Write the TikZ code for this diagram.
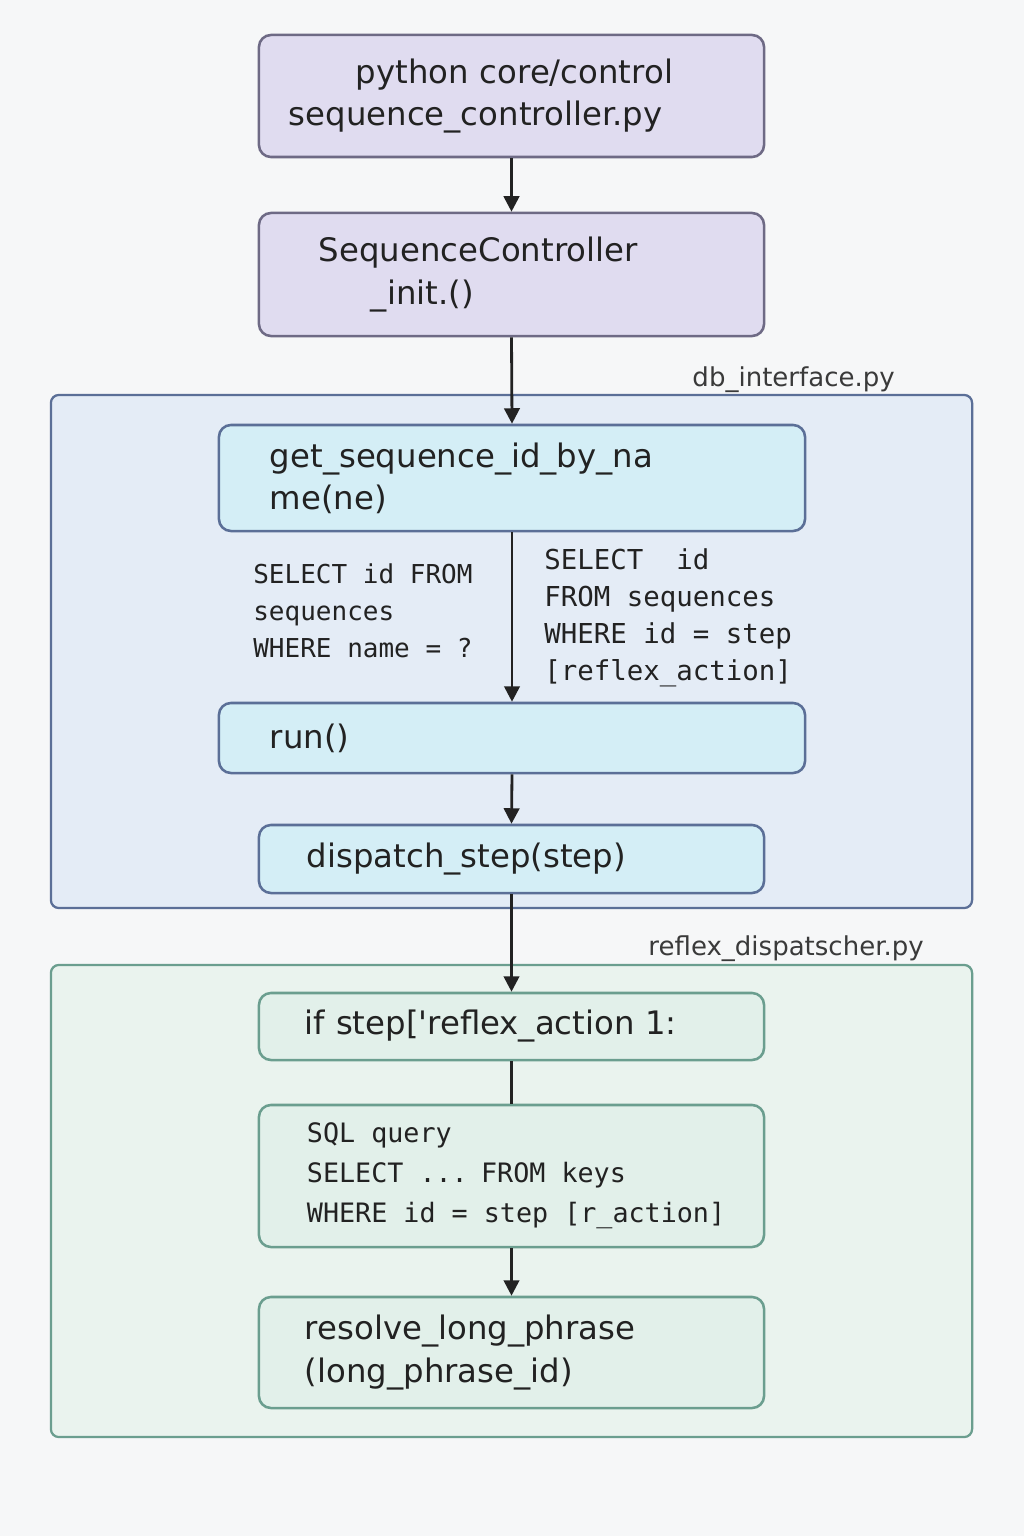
\documentclass[tikz,border=0pt]{standalone}
\usepackage{fontspec}
\setmainfont{DejaVu Sans}
\setmonofont{DejaVu Sans Mono}
\usetikzlibrary{arrows.meta}
\definecolor{paper}{HTML}{F6F7F8}
\definecolor{ink}{HTML}{222222}
\definecolor{lav}{HTML}{E0DCF0}
\definecolor{lavline}{HTML}{6E6A85}
\definecolor{dbfill}{HTML}{E4ECF6}
\definecolor{dbline}{HTML}{5B6F97}
\definecolor{cyanfill}{HTML}{D4EEF6}
\definecolor{rxfill}{HTML}{EAF3EE}
\definecolor{rxline}{HTML}{6B9E8F}
\definecolor{mintfill}{HTML}{E2F0EA}
\definecolor{labelgray}{HTML}{3A3A3A}

\begin{document}
\begin{tikzpicture}[x=0.025cm,y=-0.025cm,font=\fontsize{23}{30}\selectfont,text=ink,
 box/.style={draw,line width=1.8pt,rounded corners=0.3cm,align=left,inner ysep=2pt},
 purplebox/.style={box,fill=lav,draw=lavline},
 bluebox/.style={box,fill=cyanfill,draw=dbline},
 greenbox/.style={box,fill=mintfill,draw=rxline},
 group/.style={draw,line width=1.6pt,rounded corners=0.2cm,inner sep=0pt},
 fname/.style={anchor=east,inner sep=0pt,text=labelgray,font=\fontsize{18.5}{22}\selectfont},
 sqlnote/.style={anchor=west,align=left,inner sep=0pt},
 flow/.style={-{Triangle[length=11pt,width=11pt]},line width=2pt,draw=ink},
 link/.style={line width=2pt,draw=ink}]
\fill[paper] (0,0) rectangle (1024,1536);
\useasboundingbox (0,0) rectangle (1024,1536);

% module frames
\node[group,fill=dbfill,draw=dbline,minimum width=23.025cm,minimum height=12.825cm] (dbgrp) at (511.5,651.5) {};
\node[fname] (dblabel) at (895,380) {db\_interface.py};
\node[group,fill=rxfill,draw=rxline,minimum width=23.025cm,minimum height=11.8cm] (rxgrp) at (511.5,1201) {};
\node[fname] (rxlabel) at (924,949) {reflex\_dispatscher.py};

% controller
\node[purplebox,minimum height=3.05cm,inner xsep=0.75cm,text width=11.125cm] (ctrlfile) at (511.5,96)
 {\hspace*{1.675cm}python core/control\\sequence\_controller.py};
\node[purplebox,minimum height=3.075cm,inner xsep=1.5cm,text width=9.625cm] (ctrlinit) at (511.5,274.5)
 {SequenceController\\\hspace*{1.3cm}\_init.()};

% db interface
\node[bluebox,minimum height=2.65cm,inner xsep=1.275cm,text width=12.1cm] (getseq) at (512,478)
 {get\_sequence\_id\_by\_na\\me(ne)};
\node[sqlnote,font=\ttfamily\fontsize{18.5}{26.2}\selectfont] (byname) at (253,611)
 {SELECT id FROM\\sequences\\WHERE name = ?};
\node[sqlnote,font=\ttfamily\fontsize{19.5}{26.2}\selectfont] (byid) at (544,618)
 {SELECT~~id\\FROM sequences\\WHERE id = step\\{}[reflex\_action]};
\node[bluebox,minimum height=1.75cm,inner xsep=1.275cm,text width=12.1cm] (run) at (512,738) {run()};
\node[bluebox,minimum height=1.7cm,inner xsep=1.2cm,text width=10.225cm] (dispatch) at (511.5,859)
 {dispatch\_step(step)};

% reflex dispatcher
\node[greenbox,minimum height=1.675cm,inner xsep=1.15cm,text width=10.325cm] (ifstep) at (511.5,1026.5)
 {if step[\textquotesingle reflex\_action 1:};
\node[greenbox,minimum height=3.55cm,inner xsep=0.5cm,text width=11.625cm,
 font=\ttfamily\fontsize{19}{28.5}\selectfont] (sqlq) at (511.5,1176)
 {\spaceskip=0pt\hspace*{0.7cm}SQL query\\\hspace*{0.7cm}SELECT ... FROM keys\\\hspace*{0.7cm}WHERE id = step [r\_action]};
\node[greenbox,minimum height=2.775cm,inner xsep=1.15cm,text width=10.325cm] (resolve) at (511.5,1352.5)
 {resolve\_long\_phrase\\(long\_phrase\_id)};

\draw[flow] (ctrlfile.south)--(ctrlinit.north);
\draw[flow] (ctrlinit.south)--(getseq.north);
\draw[flow] (getseq.south)--(run.north);
\draw[flow] (run.south)--(dispatch.north);
\draw[flow] (dispatch.south)--(ifstep.north);
\draw[link] (ifstep.south)--(sqlq.north);
\draw[flow] (sqlq.south)--(resolve.north);
\end{tikzpicture}
\end{document}
